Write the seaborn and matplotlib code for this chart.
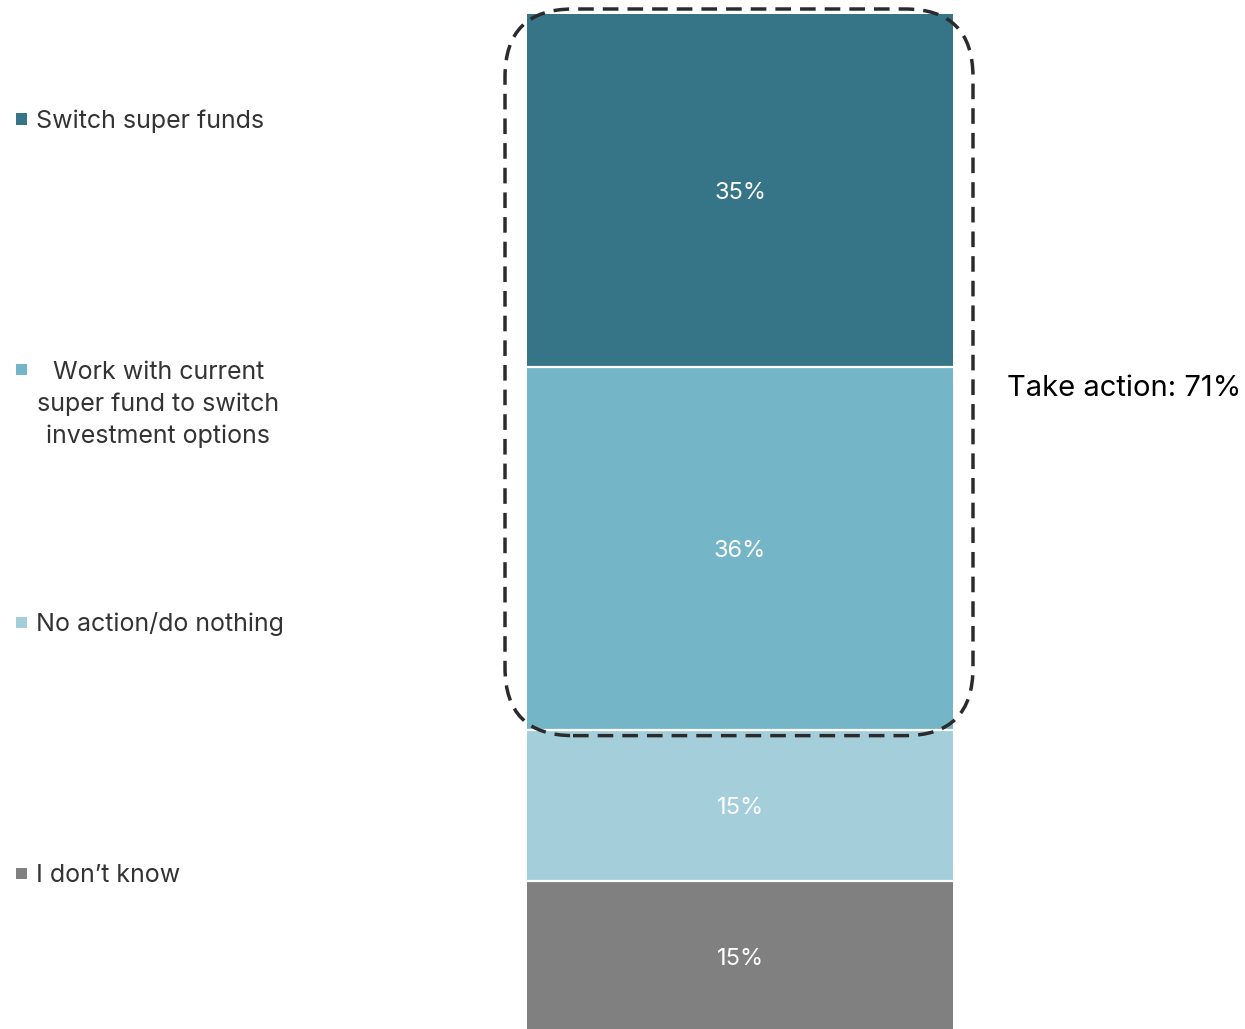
import matplotlib
matplotlib.use("Agg")
import matplotlib.pyplot as plt
from matplotlib.patches import FancyBboxPatch, Rectangle
from matplotlib.transforms import IdentityTransform
import seaborn as sns
import pandas as pd

# ---- data (top to bottom) ----
categories = ["Switch super funds",
              "Work with current\nsuper fund to switch\ninvestment options",
              "No action/do nothing",
              "I don\u2019t know"]
values = [35, 36, 15, 15]
colors = ["#367587", "#75B5C8", "#A5CEDB", "#808080"]
value_labels = ["35%", "36%", "15%", "15%"]
group_label = "Take action: 71%"
group_members = 2  # first two categories form the "take action" group

sns.set_theme(style="white")
plt.rcParams["font.family"] = ["Inter", "DejaVu Sans"]

W, H, DPI = 1245, 1029, 100
fig = plt.figure(figsize=(W / DPI, H / DPI), dpi=DPI)
ax = fig.add_axes([527 / W, -3 / H, 426 / W, 1018 / H])

# stacking from the bottom
order = list(range(len(values)))[::-1]
bottoms = {}
cum = 0
for i in order:
    bottoms[i] = cum
    cum += values[i]
total = cum

for i in order:
    df = pd.DataFrame({"x": ["bar"], "y": [values[i]]})
    sns.barplot(data=df, x="x", y="y", color=colors[i], width=1.0,
                bottom=bottoms[i], linewidth=0, saturation=1, ax=ax)
    ax.text(0, bottoms[i] + values[i] / 2, value_labels[i], color="white",
            ha="center", va="center_baseline", fontsize=17)

# white separators between segments
ax.hlines([bottoms[i] for i in order[1:]], -0.5, 0.5, colors="white",
          linewidth=1.6, zorder=5)

ax.set_xlim(-0.5, 0.5)
ax.set_ylim(0, total)
ax.axis("off")

# dashed rounded box around the "take action" group
g_bottom = bottoms[group_members - 1]
g_top = bottoms[0] + values[0]
(x0, y0) = ax.transData.transform((-0.5, g_bottom))
(x1, y1) = ax.transData.transform((0.5, g_top))
box = FancyBboxPatch((x0 - 22, y0 - 6), (x1 - x0) + 42, (y1 - y0) + 11,
                     boxstyle="round,pad=0,rounding_size=68",
                     transform=IdentityTransform(), fill=False,
                     edgecolor="#2b2b2b", linewidth=2.5,
                     linestyle=(0, (4.5, 2.6)), zorder=10)
fig.add_artist(box)

fig.text(1007 / W, 1 - 385 / H, group_label, ha="left",
         va="center_baseline", fontsize=21, color="black")

# manual legend
legend_y = [119, 370, 622, 873]
for i, cat in enumerate(categories):
    yy = 1 - legend_y[i] / H
    fig.add_artist(Rectangle((16 / W, yy - 5.5 / H), 11 / W, 11 / H,
                             transform=fig.transFigure,
                             facecolor=colors[i], edgecolor="none"))
    if "\n" in cat:
        lines = cat.split("\n")
        for k, ln in enumerate(lines):
            fig.text(158.5 / W, 1 - (legend_y[i] + 32 * k) / H, ln,
                     ha="center", va="center_baseline", fontsize=18,
                     color="#333333")
    else:
        fig.text(36 / W, yy, cat, ha="left", va="center_baseline",
                 fontsize=18, color="#333333")

fig.savefig("out.png", dpi=DPI)
